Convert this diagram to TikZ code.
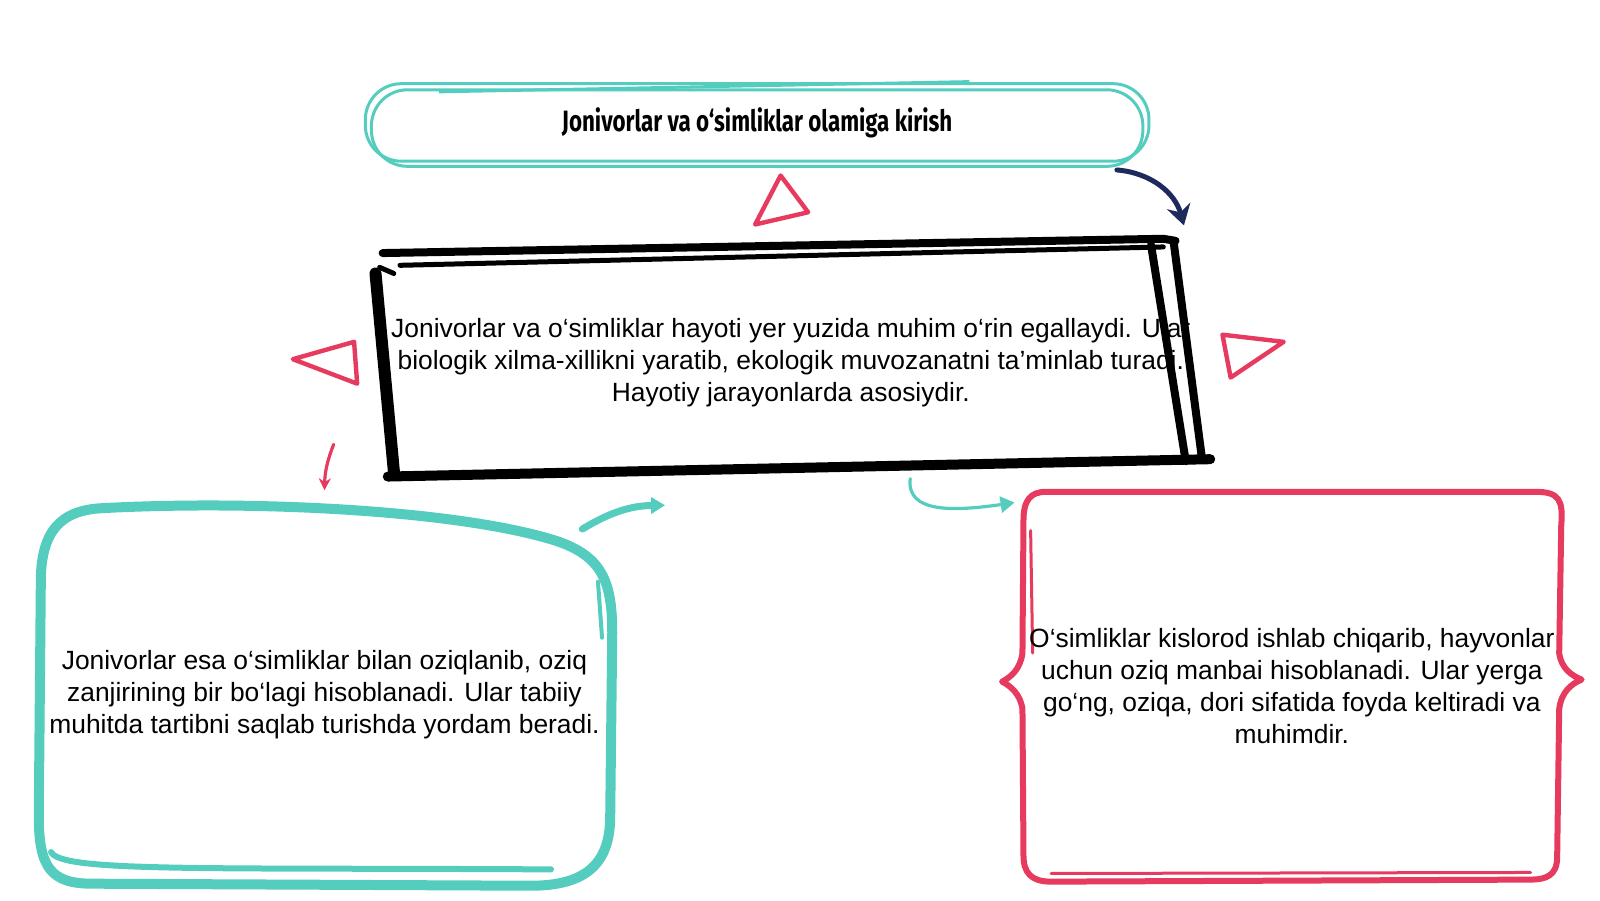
\documentclass[tikz,border=0pt]{standalone}
\usepackage{fontspec}
\setmainfont{Liberation Sans}
\newfontfamily\titlefont[FakeStretch=0.76]{Fira Sans}
\usepackage{tikz}
\usetikzlibrary{arrows.meta,calc}
\definecolor{sketchteal}{HTML}{55CDBE}
\definecolor{sketchred}{HTML}{E63A5E}
\definecolor{sketchnavy}{HTML}{1F2A5C}

\begin{document}
\begin{tikzpicture}[x=0.5102pt,y=-0.5102pt,
    boxtext/.style={align=center, inner sep=0pt, font=\fontsize{13.2}{16}\selectfont, text=black},
    tealline/.style={draw=sketchteal, line width=1.5pt, rounded corners=18pt},
    tealbox/.style={draw=sketchteal, line width=5pt, line cap=round, line join=round},
    redbox/.style={draw=sketchred, line width=3pt, line cap=round, line join=round},
    blackbox/.style={draw=black, line width=4pt, line cap=round},
    redtri/.style={draw=sketchred, line width=2.2pt, line join=round},
    redarrow/.style={draw=sketchred, line width=1.6pt, line cap=round, -{Stealth[length=6pt,width=6pt]}},
    tealarrow/.style={draw=sketchteal, line width=1.6pt, line cap=round, -{Triangle[length=7pt,width=8pt]}},
    navyarrow/.style={draw=sketchnavy, line width=2.5pt, line cap=round, -{Stealth[length=10pt,width=12pt]}}]
    \useasboundingbox (0,0) rectangle (1568,882);

    \draw[tealline] (358,82) rectangle (1126,158);
    \draw[tealline] (364,88) rectangle (1120,163);
    \draw[draw=sketchteal, line width=1.5pt] (430,90) -- (950,80);

    \draw[tealbox] (100,498) .. controls (250,490) and (450,500) .. (545,530)
        .. controls (590,545) and (600,570) .. (600,620) -- (598,800)
        .. controls (598,850) and (570,868) .. (520,868) -- (90,866)
        .. controls (50,866) and (38,850) .. (38,800) -- (40,570)
        .. controls (40,520) and (60,500) .. (100,498) -- cycle;
    \draw[tealbox, line width=3pt] (50,835) .. controls (60,855) and (200,850) .. (540,852);
    \draw[tealbox, line width=2pt] (586,570) -- (590,625);

    \draw[redbox] (1025,482) -- (1505,482) .. controls (1528,482) and (1532,490) .. (1530,515)
        -- (1528,640) .. controls (1530,655) and (1540,662) .. (1550,666)
        .. controls (1540,670) and (1530,678) .. (1528,695) -- (1526,840)
        .. controls (1526,858) and (1515,862) .. (1500,862) -- (1030,864)
        .. controls (1010,864) and (1003,855) .. (1003,838) -- (1002,695)
        .. controls (1000,680) and (990,672) .. (982,668)
        .. controls (990,664) and (1000,656) .. (1002,640) -- (1003,510)
        .. controls (1003,490) and (1010,482) .. (1025,482) -- cycle;
    \draw[redbox, line width=1.5pt] (1010,520) -- (1012,640);
    \draw[redbox, line width=1.5pt] (1030,856) -- (1500,855);

    \node[boxtext, minimum width=392pt, minimum height=41pt, font=\titlefont\bfseries\fontsize{14.7}{17}\selectfont] (title) at (742,120) {Jonivorlar va o‘simliklar olamiga kirish};
    \node[boxtext, minimum width=408pt, minimum height=114pt] (mid) at (775,355) {Jonivorlar va o‘simliklar hayoti yer yuzida muhim o‘rin egallaydi. Ular\\ biologik xilma-xillikni yaratib, ekologik muvozanatni ta’minlab turadi.\\ Hayotiy jarayonlarda asosiydir.};
    \node[boxtext, minimum width=286pt, minimum height=192pt] (left) at (318,681) {Jonivorlar esa o‘simliklar bilan oziqlanib, oziq\\ zanjirining bir bo‘lagi hisoblanadi. Ular tabiiy\\ muhitda tartibni saqlab turishda yordam beradi.};
    \node[boxtext, minimum width=286pt, minimum height=196pt] (right) at (1266,672) {O‘simliklar kislorod ishlab chiqarib, hayvonlar\\ uchun oziq manbai hisoblanadi. Ular yerga\\ go‘ng, oziqa, dori sifatida foyda keltiradi va\\ muhimdir.};

    \draw[blackbox] (375,248) -- (1140,234) -- (1152,236);
    \draw[blackbox, line width=2.5pt] (392,260) -- (1140,242);
    \draw[blackbox, line width=6pt] (368,268) -- (386,462);
    \draw[blackbox, line width=2.5pt] (372,262) -- (386,268);
    \draw[blackbox, line width=5pt] (380,467) -- (1186,450);
    \draw[blackbox] (1128,240) -- (1162,452);
    \draw[blackbox] (1150,236) -- (1178,450);

    \draw[redtri] (765,172) -- (740,220) -- (792,208) -- cycle;
    \draw[redtri] (287,352) -- (347,335) -- (350,376) -- cycle;
    \draw[redtri] (1198,328) -- (1258,335) -- (1206,370) -- cycle;

    \draw[navyarrow] ($(title.south east)+(-32,6)$) to[bend left=35] ($(mid.north east)+(-15,-22)$);
    \draw[redarrow] ($(left.north)+(9,-57)$) to[bend right=10] ($(left.north)+(0,-12)$);
    \draw[tealarrow, line width=3.5pt] ($(left.north east)+(-28,26)$) to[bend left=15] ($(mid.south west)+(277,28)$);
    \draw[tealarrow] ($(mid.south)+(117,2)$) .. controls ($(mid.south)+(113,36)$) and ($(mid.south)+(160,34)$) .. ($(right.north west)+(9,13)$);
\end{tikzpicture}
\end{document}
